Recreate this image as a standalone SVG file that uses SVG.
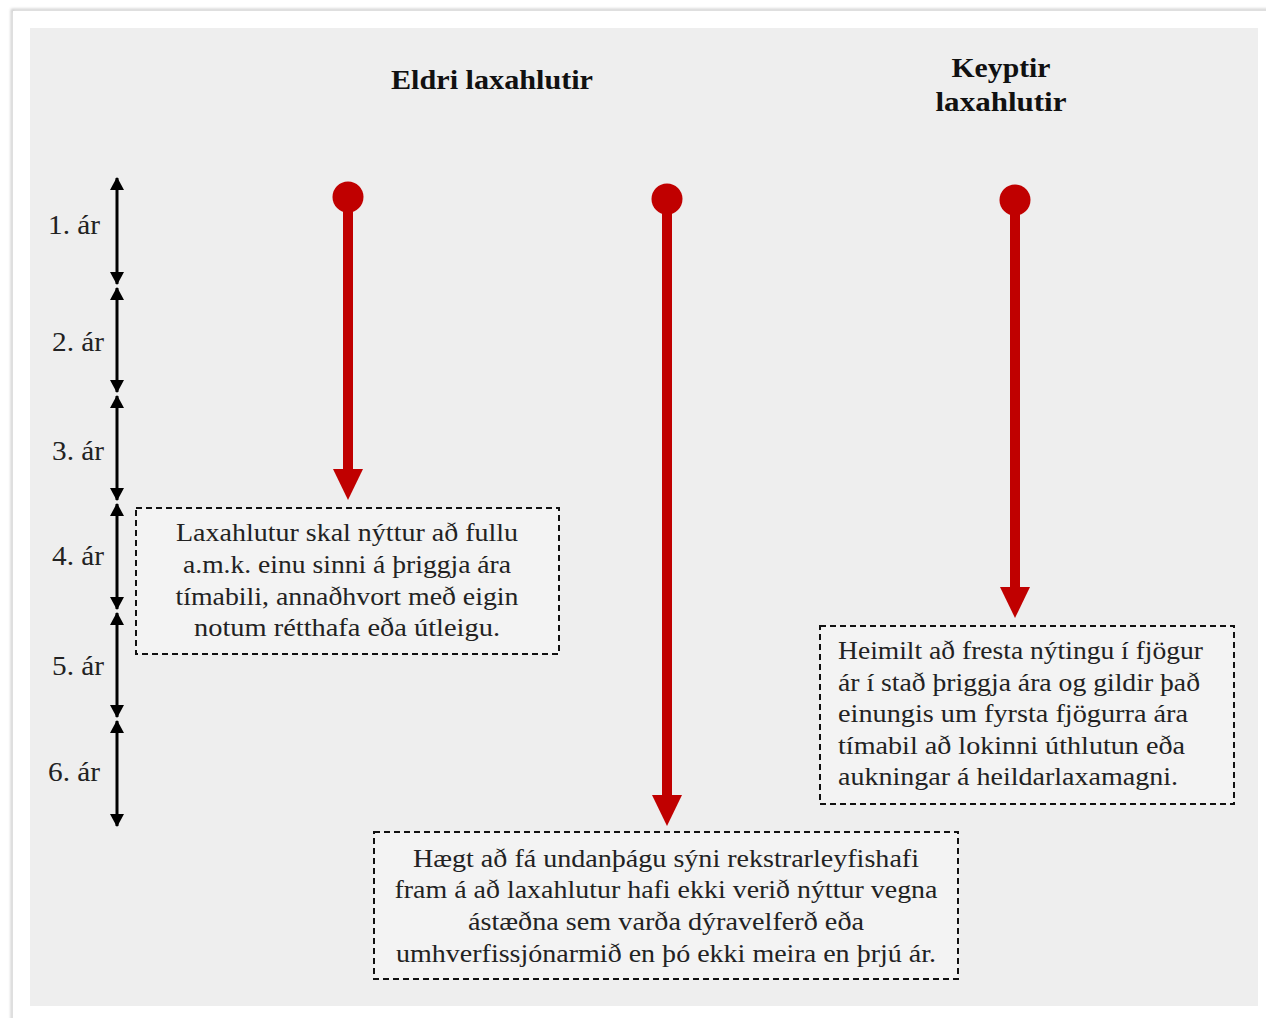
<svg xmlns="http://www.w3.org/2000/svg" width="1266" height="1018" viewBox="0 0 1266 1018">
<style>
.t{font-family:"Liberation Serif","DejaVu Serif",serif;font-size:26px;fill:#222}
.h{font-family:"Liberation Serif","DejaVu Serif",serif;font-size:27px;font-weight:bold;fill:#111}
.y{font-family:"Liberation Serif","DejaVu Serif",serif;font-size:27px;fill:#222}
.box{fill:#F3F3F3;stroke:#111;stroke-width:2;stroke-dasharray:6 4}
.yr{stroke:#000;stroke-width:3;fill:none;marker-start:url(#ah);marker-end:url(#ah)}
.red{stroke:#C00000;stroke-width:10;fill:none}
</style>
<defs>
<marker id="ah" viewBox="0 0 13 14" refX="12" refY="7" markerWidth="13" markerHeight="14" markerUnits="userSpaceOnUse" orient="auto-start-reverse">
<path d="M0,0 L13,7 L0,14 Z" fill="#000"/>
</marker>
<filter id="sh" x="-5%" y="-5%" width="110%" height="110%"><feGaussianBlur stdDeviation="1.5"/></filter>
</defs>
<rect width="1266" height="1018" fill="#fff"/>
<rect x="12" y="10" width="1300" height="1100" fill="none" stroke="#bdbdbd" stroke-width="2" filter="url(#sh)"/>
<rect x="13" y="11" width="1300" height="1100" fill="#fff"/>
<rect x="30" y="28" width="1228" height="978" fill="#EEEEEE"/>

<g id="title-eldri"><text class="h" x="492" y="89" text-anchor="middle" textLength="202" lengthAdjust="spacingAndGlyphs">Eldri laxahlutir</text></g>
<g id="title-keyptir"><text class="h" x="1001" y="77" text-anchor="middle" textLength="99" lengthAdjust="spacingAndGlyphs">Keyptir</text><text class="h" x="1001" y="111" text-anchor="middle" textLength="131" lengthAdjust="spacingAndGlyphs">laxahlutir</text></g>

<g id="year-axis">
<line class="yr" x1="117" y1="178" x2="117" y2="284"/>
<line class="yr" x1="117" y1="288" x2="117" y2="392"/>
<line class="yr" x1="117" y1="396" x2="117" y2="500"/>
<line class="yr" x1="117" y1="504" x2="117" y2="609"/>
<line class="yr" x1="117" y1="613" x2="117" y2="717"/>
<line class="yr" x1="117" y1="721" x2="117" y2="826"/>
<text class="y" x="74" y="234" text-anchor="middle" textLength="52" lengthAdjust="spacingAndGlyphs">1. ár</text>
<text class="y" x="78" y="351" text-anchor="middle" textLength="52" lengthAdjust="spacingAndGlyphs">2. ár</text>
<text class="y" x="78" y="460" text-anchor="middle" textLength="52" lengthAdjust="spacingAndGlyphs">3. ár</text>
<text class="y" x="78" y="565" text-anchor="middle" textLength="52" lengthAdjust="spacingAndGlyphs">4. ár</text>
<text class="y" x="78" y="675" text-anchor="middle" textLength="52" lengthAdjust="spacingAndGlyphs">5. ár</text>
<text class="y" x="74" y="781" text-anchor="middle" textLength="52" lengthAdjust="spacingAndGlyphs">6. ár</text>
</g>

<g id="connectors">
<circle cx="348" cy="197" r="15.5" fill="#C00000"/>
<line class="red" x1="348" y1="197" x2="348" y2="472"/>
<path d="M333,469 L363,469 L348,500 Z" fill="#C00000"/>
<circle cx="667" cy="199" r="15.5" fill="#C00000"/>
<line class="red" x1="667" y1="199" x2="667" y2="798"/>
<path d="M652,795 L682,795 L667,826 Z" fill="#C00000"/>
<circle cx="1015" cy="200" r="15.5" fill="#C00000"/>
<line class="red" x1="1015" y1="200" x2="1015" y2="590"/>
<path d="M1000,587 L1030,587 L1015,618 Z" fill="#C00000"/>
</g>

<g id="box-eldri">
<rect class="box" x="136" y="508" width="423" height="146"/>
<text class="t" x="347" y="541" text-anchor="middle" textLength="342" lengthAdjust="spacingAndGlyphs">Laxahlutur skal nýttur að fullu</text>
<text class="t" x="347" y="573" text-anchor="middle" textLength="328" lengthAdjust="spacingAndGlyphs">a.m.k. einu sinni á þriggja ára</text>
<text class="t" x="347" y="605" text-anchor="middle" textLength="343" lengthAdjust="spacingAndGlyphs">tímabili, annaðhvort með eigin</text>
<text class="t" x="347" y="636" text-anchor="middle" textLength="306" lengthAdjust="spacingAndGlyphs">notum rétthafa eða útleigu.</text>
</g>

<g id="box-keyptir">
<rect class="box" x="820" y="626" width="414" height="178"/>
<text class="t" x="838" y="659" textLength="365" lengthAdjust="spacingAndGlyphs">Heimilt að fresta nýtingu í fjögur</text>
<text class="t" x="838" y="691" textLength="362" lengthAdjust="spacingAndGlyphs">ár í stað þriggja ára og gildir það</text>
<text class="t" x="838" y="722" textLength="350" lengthAdjust="spacingAndGlyphs">einungis um fyrsta fjögurra ára</text>
<text class="t" x="838" y="754" textLength="347" lengthAdjust="spacingAndGlyphs">tímabil að lokinni úthlutun eða</text>
<text class="t" x="838" y="785" textLength="340" lengthAdjust="spacingAndGlyphs">aukningar á heildarlaxamagni.</text>
</g>

<g id="box-undanthaga">
<rect class="box" x="374" y="832" width="584" height="147"/>
<text class="t" x="666" y="867" text-anchor="middle" textLength="506" lengthAdjust="spacingAndGlyphs">Hægt að fá undanþágu sýni rekstrarleyfishafi</text>
<text class="t" x="666" y="898" text-anchor="middle" textLength="543" lengthAdjust="spacingAndGlyphs">fram á að laxahlutur hafi ekki verið nýttur vegna</text>
<text class="t" x="666" y="930" text-anchor="middle" textLength="396" lengthAdjust="spacingAndGlyphs">ástæðna sem varða dýravelferð eða</text>
<text class="t" x="666" y="962" text-anchor="middle" textLength="540" lengthAdjust="spacingAndGlyphs">umhverfissjónarmið en þó ekki meira en þrjú ár.</text>
</g>
</svg>
